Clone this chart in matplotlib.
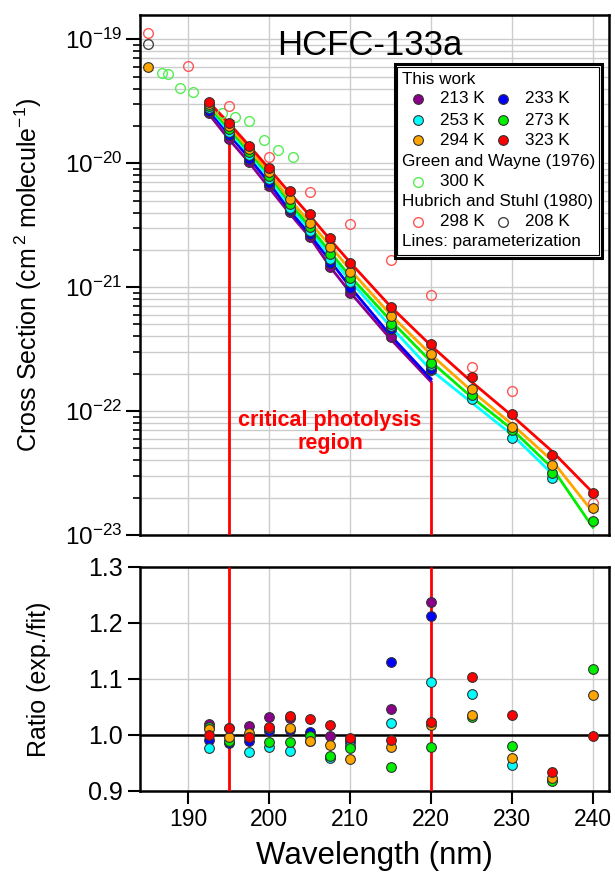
import numpy as np
import matplotlib
matplotlib.use("Agg")
import matplotlib.pyplot as plt
import matplotlib.ticker as mticker
from matplotlib.patches import Rectangle

plt.rcParams['font.family'] = ['Liberation Sans', 'DejaVu Sans']
plt.rcParams['mathtext.fontset'] = 'custom'
plt.rcParams['mathtext.rm'] = 'Liberation Sans'
plt.rcParams['mathtext.default'] = 'regular'

# ── Data ──────────────────────────────────────────────────────────────────
wl = [192.5, 195, 197.5, 200, 202.5, 205, 207.5, 210, 215, 220, 225, 230, 235, 240]

# cross sections, this work (cm2 molecule-1)
sig_213 = [2.55e-20, 1.58e-20, 1.03e-20, 6.5e-21, 4.05e-21, 2.54e-21, 1.46e-21, 9.0e-22, 3.98e-22, 2.13e-22]
sig_233 = [2.66e-20, 1.68e-20, 1.09e-20, 6.95e-21, 4.2e-21, 2.68e-21, 1.57e-21, 9.9e-22, 4.6e-22, 2.2e-22]
sig_253 = [2.77e-20, 1.78e-20, 1.16e-20, 7.4e-21, 4.38e-21, 2.85e-21, 1.70e-21, 1.10e-21, 4.9e-22, 2.34e-22,
           1.26e-22, 6.1e-23, 2.86e-23]
sig_273 = [2.88e-20, 1.89e-20, 1.23e-20, 7.95e-21, 4.72e-21, 3.06e-21, 1.85e-21, 1.19e-21, 5.07e-22, 2.45e-22,
           1.34e-22, 7.0e-23, 3.17e-23, 1.29e-23]
sig_294 = [3.0e-20, 2.0e-20, 1.30e-20, 8.5e-21, 5.17e-21, 3.31e-21, 2.12e-21, 1.32e-21, 5.85e-22, 2.9e-22,
           1.51e-22, 7.5e-23, 3.66e-23, 1.64e-23]
sig_323 = [3.12e-20, 2.13e-20, 1.38e-20, 9.1e-21, 5.97e-21, 3.89e-21, 2.47e-21, 1.57e-21, 6.9e-22, 3.45e-22,
           1.9e-22, 9.5e-23, 4.4e-23, 2.19e-23]

# ratio experiment / parameterization
rat_213 = [1.020, 1.013, 1.016, 1.032, 1.030, 1.002, 0.999, 0.993, 1.046, 1.238]
rat_233 = [0.991, 0.986, 0.989, 1.007, 1.009, 1.005, 0.960, 0.988, 1.130, 1.213]
rat_253 = [0.976, 0.990, 0.970, 0.979, 0.972, 0.990, 0.959, 0.980, 1.021, 1.094, 1.073, 0.946, 0.920]
rat_273 = [1.015, 0.990, 1.000, 0.988, 0.987, 0.998, 0.962, 0.976, 0.943, 0.979, 1.033, 0.981, 0.917, 1.118]
rat_294 = [1.011, 0.997, 1.004, 1.012, 1.013, 0.990, 0.982, 0.958, 0.979, 1.017, 1.036, 0.959, 0.923, 1.071]
rat_323 = [1.000, 1.012, 0.996, 1.014, 1.034, 1.029, 1.018, 0.994, 0.991, 1.024, 1.103, 1.035, 0.934, 0.998]

# single 184.95 nm point (294 K)
hg_wl = [184.95]
hg_sig = [5.94e-20]

# Green and Wayne (1976), 300 K
gw_wl = [186.75, 187.5, 189.0, 190.6, 194.2, 195.8, 197.5, 199.3, 201.1, 202.9]
gw_sig = [5.39e-20, 5.23e-20, 4.03e-20, 3.74e-20, 2.54e-20, 2.38e-20, 2.21e-20, 1.53e-20, 1.27e-20, 1.12e-20]

# Hubrich and Stuhl (1980)
hs298_wl = [184.95, 190, 195, 200, 205, 210, 215, 220, 225, 230, 240]
hs298_sig = [1.13e-19, 6.1e-20, 2.89e-20, 1.12e-20, 5.9e-21, 3.23e-21, 1.67e-21, 8.7e-22, 2.25e-22, 1.45e-22, 1.82e-23]
hs208_wl = [184.95]
hs208_sig = [9.2e-20]

crit_wl = [195, 220]

series = [
    ("213 K", sig_213, rat_213, "#8b008b"),
    ("233 K", sig_233, rat_233, "#0000ff"),
    ("253 K", sig_253, rat_253, "#00ffff"),
    ("273 K", sig_273, rat_273, "#00ee00"),
    ("294 K", sig_294, rat_294, "#ffa500"),
    ("323 K", sig_323, rat_323, "#ff0000"),
]

# ── Figure ────────────────────────────────────────────────────────────────
fig = plt.figure(figsize=(6.15, 8.72), dpi=100)
ax1 = fig.add_axes([0.2276, 0.3865, 0.7626, 0.5963])
ax2 = fig.add_axes([0.2276, 0.0929, 0.7626, 0.2569])

edge = "#333333"
ms = 7

# ── Top panel: cross sections ─────────────────────────────────────────────
for name, sig, rat, c in series:
    x = np.array(wl[:len(sig)])
    s = np.array(sig)
    fit = s / np.array(rat)
    ax1.plot(x, fit, color=c, lw=2, zorder=3)
for name, sig, rat, c in series:
    x = np.array(wl[:len(sig)])
    s = np.array(sig)
    ax1.errorbar(x, s, yerr=0.04 * s, fmt="o", color=c, mfc=c, mec=edge, mew=0.8, ms=ms,
                 ecolor=c, elinewidth=1.2, capsize=3.5, capthick=1.2, zorder=5)
ax1.errorbar(hg_wl, hg_sig, yerr=[0.04 * hg_sig[0]], fmt="o", color="#ffa500", mec=edge, mew=0.8, ms=ms,
             ecolor="#ffa500", elinewidth=1.2, capsize=3.5, zorder=5)

ax1.plot(gw_wl, gw_sig, "o", mfc="none", mec="#55ee55", mew=1.0, ms=7, zorder=4)
ax1.plot(hs298_wl, hs298_sig, "o", mfc="none", mec="#ff5555", mew=1.0, ms=7, zorder=4)
ax1.plot(hs208_wl, hs208_sig, "o", mfc="none", mec="#444444", mew=1.0, ms=7, zorder=4)

# critical region lines start at the 213 K parameterization
vtop = [sig_213[wl.index(w)] / rat_213[wl.index(w)] for w in crit_wl]
ax1.vlines(crit_wl, 1e-23, vtop, color="red", lw=2, zorder=4)
ax1.text(207.5, 6.8e-23, "critical photolysis\nregion", color="red", fontsize=15.5,
         fontweight="bold", ha="center", va="center", linespacing=1.15)

ax1.set_yscale("log")
ax1.set_xlim(184, 242)
ax1.set_ylim(1e-23, 1.57e-19)
ax1.set_xticks([190, 200, 210, 220, 230, 240])
ax1.yaxis.set_major_locator(mticker.FixedLocator([1e-23, 1e-22, 1e-21, 1e-20, 1e-19]))
ax1.yaxis.set_minor_locator(mticker.LogLocator(base=10, subs=np.arange(2, 10), numticks=20))
ax1.yaxis.set_minor_formatter(mticker.NullFormatter())
ax1.yaxis.set_major_formatter(mticker.FuncFormatter(lambda v, _: r"$10^{%d}$" % round(np.log10(v))))
ax1.tick_params(axis="x", bottom=False, labelbottom=False)
ax1.tick_params(axis="y", which="major", direction="out", length=10, width=1.5, labelsize=17.5, pad=3)
ax1.tick_params(axis="y", which="minor", direction="out", length=5, width=1.2)
ax1.grid(True, axis="y", which="both", color="#cccccc", lw=1, zorder=0)
ax1.grid(True, axis="x", which="major", color="#cccccc", lw=1, zorder=0)
ax1.set_axisbelow(True)
ax1.set_ylabel(r"Cross Section (cm$^{\,2}$ molecule$^{-1}$)", fontsize=18)
ax1.yaxis.set_label_coords(-0.205, 0.5)
ax1.text(0.49, 0.942, "HCFC-133a", transform=ax1.transAxes, fontsize=25, ha="center", va="center")

# legend drawn by hand
ax1.add_patch(Rectangle((0.5437, 0.5327), 0.4413, 0.3731, transform=ax1.transAxes,
                        facecolor="white", edgecolor="black", lw=2.2, zorder=8))
ax1.add_patch(Rectangle((0.5490, 0.5385), 0.4307, 0.3615, transform=ax1.transAxes,
                        facecolor="none", edgecolor="black", lw=0.8, zorder=8))
lfs = 12.3
def lt(x, y, s):
    ax1.text(x, y, s, transform=ax1.transAxes, fontsize=lfs, ha="left", va="center", zorder=9)
def lm(x, y, **kw):
    ax1.plot([x], [y], "o", transform=ax1.transAxes, ms=ms, zorder=9, clip_on=False, **kw)

lt(0.5586, 0.875, "This work")
rows = [0.8385, 0.798, 0.7596]
for i, (name, sig, rat, c) in enumerate(series):
    r = rows[i // 2]
    mx, tx = (0.5928, 0.6397) if i % 2 == 0 else (0.774, 0.821)
    lm(mx, r, color=c, mec=edge, mew=0.8)
    lt(tx, r, name)
lt(0.5586, 0.7178, "Green and Wayne (1976)")
lm(0.5928, 0.6794, mfc="none", mec="#55ee55", mew=1.0)
lt(0.6397, 0.6794, "300 K")
lt(0.5586, 0.6409, "Hubrich and Stuhl (1980)")
lm(0.5928, 0.6025, mfc="none", mec="#ff5555", mew=1.0)
lt(0.6397, 0.6025, "298 K")
lm(0.774, 0.6025, mfc="none", mec="#444444", mew=1.0)
lt(0.821, 0.6025, "208 K")
lt(0.5586, 0.564, "Lines: parameterization")

# ── Bottom panel: ratio ───────────────────────────────────────────────────
for name, sig, rat, c in series:
    ax2.plot(wl[:len(rat)], rat, "o", color=c, mec=edge, mew=0.8, ms=ms, zorder=5)
ax2.axhline(1.0, color="black", lw=1.8, zorder=3)
ax2.vlines(crit_wl, 0.9, 1.3, color="red", lw=2, zorder=4)
ax2.set_xlim(184, 242)
ax2.set_ylim(0.9, 1.3)
ax2.set_xticks([190, 200, 210, 220, 230, 240])
ax2.set_yticks([0.9, 1.0, 1.1, 1.2, 1.3])
ax2.yaxis.set_major_formatter(mticker.FormatStrFormatter("%.1f"))
ax2.tick_params(axis="both", direction="out", length=9, width=1.5)
ax2.tick_params(axis="x", labelsize=16.5)
ax2.tick_params(axis="y", labelsize=18)
ax2.grid(True, color="#cccccc", lw=1, zorder=0)
ax2.set_axisbelow(True)
ax2.set_xlabel("Wavelength (nm)", fontsize=22.5, labelpad=7)
ax2.set_ylabel("Ratio (exp./fit)", fontsize=18)
ax2.yaxis.set_label_coords(-0.19, 0.5)

for ax in (ax1, ax2):
    for sp in ax.spines.values():
        sp.set_linewidth(1.8)

fig.savefig("out.png", dpi=100)
